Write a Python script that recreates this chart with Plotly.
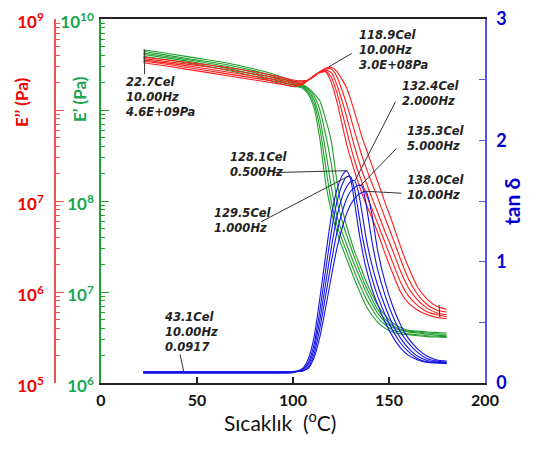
import math
import plotly.graph_objects as go

# ---------------- data ----------------
T = [22, 35, 50, 65, 80, 92, 100, 105, 108, 111, 114, 117, 120, 123, 126,
     128, 130, 132, 134, 136, 138, 141, 144, 148, 152, 156, 160, 165, 170, 175, 180]

freqs = ["0.5 Hz", "1 Hz", "2 Hz", "5 Hz", "10 Hz"]

# log10 of storage modulus E' (Pa)
logE1_05 = [9.59, 9.55, 9.50, 9.44, 9.37, 9.30, 9.26, 9.24, 9.17, 9.02, 8.68, 8.20, 7.88, 7.65, 7.47,
            7.36, 7.25, 7.14, 7.04, 6.94, 6.85, 6.75, 6.67, 6.60, 6.56, 6.54, 6.53, 6.52, 6.51, 6.505, 6.50]
logE1_1 = [9.61, 9.57, 9.52, 9.46, 9.39, 9.32, 9.275, 9.25, 9.19, 9.07, 8.80, 8.38, 7.98, 7.73, 7.55,
           7.44, 7.33, 7.22, 7.12, 7.02, 6.93, 6.82, 6.72, 6.64, 6.58, 6.56, 6.54, 6.53, 6.52, 6.515, 6.51]
logE1_2 = [9.625, 9.585, 9.535, 9.48, 9.41, 9.34, 9.29, 9.26, 9.21, 9.11, 8.90, 8.55, 8.15, 7.83, 7.63,
           7.52, 7.41, 7.30, 7.20, 7.10, 7.00, 6.88, 6.77, 6.67, 6.61, 6.58, 6.56, 6.55, 6.535, 6.525, 6.52]
logE1_5 = [9.645, 9.60, 9.55, 9.50, 9.43, 9.36, 9.305, 9.27, 9.23, 9.15, 9.00, 8.73, 8.40, 8.00, 7.75,
           7.62, 7.50, 7.38, 7.27, 7.16, 7.06, 6.93, 6.81, 6.70, 6.63, 6.59, 6.57, 6.56, 6.55, 6.54, 6.535]
logE1_10 = [9.663, 9.62, 9.57, 9.52, 9.45, 9.38, 9.32, 9.28, 9.24, 9.18, 9.10, 8.90, 8.65, 8.20, 7.88,
            7.72, 7.58, 7.45, 7.34, 7.23, 7.12, 6.98, 6.86, 6.74, 6.66, 6.61, 6.58, 6.57, 6.56, 6.555, 6.55]

# log10 of loss modulus E'' (Pa)
logE2_05 = [8.52, 8.48, 8.43, 8.38, 8.33, 8.29, 8.26, 8.28, 8.33, 8.38, 8.41, 8.42, 8.30, 8.08, 7.80,
            7.62, 7.47, 7.33, 7.20, 7.08, 6.97, 6.82, 6.66, 6.42, 6.20, 6.00, 5.88, 5.80, 5.75, 5.72, 5.71]
logE2_1 = [8.535, 8.50, 8.45, 8.40, 8.35, 8.31, 8.28, 8.29, 8.33, 8.38, 8.415, 8.43, 8.36, 8.18, 7.94,
           7.77, 7.60, 7.45, 7.32, 7.20, 7.08, 6.92, 6.76, 6.54, 6.32, 6.11, 5.96, 5.85, 5.78, 5.75, 5.73]
logE2_2 = [8.55, 8.515, 8.47, 8.42, 8.37, 8.33, 8.30, 8.30, 8.33, 8.37, 8.42, 8.44, 8.41, 8.27, 8.07,
           7.92, 7.76, 7.60, 7.46, 7.33, 7.21, 7.04, 6.88, 6.66, 6.45, 6.23, 6.05, 5.91, 5.82, 5.77, 5.75]
logE2_5 = [8.565, 8.53, 8.49, 8.445, 8.395, 8.35, 8.315, 8.31, 8.33, 8.37, 8.42, 8.45, 8.45, 8.36, 8.19,
           8.06, 7.92, 7.77, 7.63, 7.49, 7.37, 7.20, 7.04, 6.81, 6.59, 6.36, 6.15, 5.97, 5.86, 5.80, 5.78]
logE2_10 = [8.58, 8.55, 8.51, 8.47, 8.42, 8.37, 8.33, 8.32, 8.33, 8.37, 8.42, 8.46, 8.47, 8.42, 8.32,
            8.24, 8.12, 7.98, 7.84, 7.70, 7.58, 7.40, 7.22, 6.98, 6.75, 6.50, 6.28, 6.05, 5.92, 5.84, 5.81]

# tan delta
tan_05 = [0.08, 0.08, 0.08, 0.08, 0.08, 0.08, 0.085, 0.12, 0.20, 0.38, 0.70, 1.05, 1.38, 1.60, 1.72,
          1.75, 1.68, 1.50, 1.28, 1.10, 0.95, 0.78, 0.65, 0.50, 0.38, 0.29, 0.23, 0.19, 0.17, 0.165, 0.16]
tan_1 = [0.085, 0.085, 0.085, 0.085, 0.085, 0.085, 0.09, 0.11, 0.17, 0.32, 0.60, 0.93, 1.25, 1.50, 1.65,
         1.70, 1.70, 1.60, 1.42, 1.22, 1.06, 0.87, 0.72, 0.56, 0.43, 0.33, 0.26, 0.20, 0.175, 0.168, 0.165]
tan_2 = [0.09, 0.09, 0.09, 0.09, 0.09, 0.09, 0.095, 0.105, 0.15, 0.28, 0.52, 0.82, 1.12, 1.38, 1.55,
         1.62, 1.66, 1.67, 1.58, 1.40, 1.20, 0.98, 0.81, 0.63, 0.48, 0.37, 0.29, 0.22, 0.185, 0.172, 0.168]
tan_5 = [0.095, 0.095, 0.095, 0.095, 0.095, 0.095, 0.095, 0.10, 0.13, 0.24, 0.45, 0.72, 1.00, 1.25, 1.43,
         1.52, 1.58, 1.61, 1.63, 1.62, 1.48, 1.18, 0.94, 0.72, 0.55, 0.42, 0.33, 0.25, 0.20, 0.18, 0.172]
tan_10 = [0.0917, 0.0917, 0.0917, 0.0917, 0.0917, 0.0917, 0.092, 0.10, 0.12, 0.21, 0.38, 0.62, 0.88, 1.12, 1.30,
          1.40, 1.47, 1.52, 1.55, 1.57, 1.58, 1.40, 1.10, 0.83, 0.63, 0.48, 0.37, 0.28, 0.22, 0.19, 0.18]

# annotated points: (temperature, value, axis, text lines)
ann_T = [22.7, 118.9, 128.1, 129.5, 132.4, 135.3, 138.0, 43.1]
ann_val = [4.6e9, 3.0e8, 1.75, 1.71, 1.67, 1.63, 1.58, 0.0917]
ann_axis = ["y", "y2", "y3", "y3", "y3", "y3", "y3", "y3"]
ann_text = [["22.7Cel", "10.00Hz", "4.6E+09Pa"],
            ["118.9Cel", "10.00Hz", "3.0E+08Pa"],
            ["128.1Cel", "0.500Hz"],
            ["129.5Cel", "1.000Hz"],
            ["132.4Cel", "2.000Hz"],
            ["135.3Cel", "5.000Hz"],
            ["138.0Cel", "10.00Hz"],
            ["43.1Cel", "10.00Hz", "0.0917"]]
end_mark_T = 176.5
end_mark_val = 5.25e5

x_ticks = [0, 50, 100, 150, 200]

# ---------------- styling / layout ----------------
W, H = 540, 452
OFF = 8  # page body margin of the rendered html
PX0, PX1, PY0, PY1 = 101, 485, 19, 383
RED, GREEN, BLUE = "#ff1a1a", "#1f9e2c", "#1414e6"
RED_T, GREEN_T, BLUE_T = "#f00000", "#1aa64f", "#0000d0"


def px(x):
    return (x - OFF) / W


def py(y):
    return 1 - (y - OFF) / H


fig = go.Figure()

for arr in [logE2_05, logE2_1, logE2_2, logE2_5, logE2_10]:
    fig.add_trace(go.Scatter(x=T, y=[10 ** v for v in arr], yaxis="y2", mode="lines",
                             line=dict(color=RED, width=1.1, shape="spline", smoothing=0.6),
                             showlegend=False, hoverinfo="skip"))
for arr in [logE1_05, logE1_1, logE1_2, logE1_5, logE1_10]:
    fig.add_trace(go.Scatter(x=T, y=[10 ** v for v in arr], yaxis="y", mode="lines",
                             line=dict(color=GREEN, width=1.1, shape="spline", smoothing=0.6),
                             showlegend=False, hoverinfo="skip"))
for arr in [tan_05, tan_1, tan_2, tan_5, tan_10]:
    fig.add_trace(go.Scatter(x=T, y=arr, yaxis="y3", mode="lines",
                             line=dict(color=BLUE, width=1.1, shape="spline", smoothing=0.6),
                             showlegend=False, hoverinfo="skip"))

dom_x = [px(PX0), px(PX1)]
dom_y = [py(PY1), py(PY0)]


def sup(n):
    return "10<sup>%d</sup>" % n


minor_E1 = [k * 10 ** n for n in range(6, 10) for k in range(2, 10)]
minor_E2 = [k * 10 ** n for n in range(5, 9) for k in range(2, 10)]


def tickfont(c, s=17):
    return dict(family="Lato", size=s, color=c, weight="bold")


fig.update_layout(
    width=W, height=H, margin=dict(l=0, r=0, t=0, b=0, autoexpand=False),
    paper_bgcolor="white", plot_bgcolor="white", showlegend=False,
    xaxis=dict(domain=dom_x, range=[0, 200], tickvals=x_ticks, automargin=False,
               ticktext=[str(v) for v in x_ticks], ticklabeloverflow="allow",
               ticks="inside", ticklen=6, tickcolor="#222", tickwidth=1.5,
               showline=True, linecolor="#222", linewidth=2, mirror=True,
               showgrid=False, zeroline=False, tickfont=tickfont("#111", 16),
               ticklabelstandoff=2),
    yaxis=dict(domain=dom_y, type="log", range=[6, 10], anchor="x", side="left", automargin=False,
               tickvals=[1e6, 1e7, 1e8, 1e9, 1e10], ticklabeloverflow="allow",
               ticktext=[sup(6), sup(7), sup(8), "", sup(10)], ticklabelshift=3,
               ticks="inside", ticklen=8, tickcolor=GREEN, tickwidth=1.2,
               minor=dict(ticks="inside", ticklen=4, tickcolor=GREEN, tickwidth=1,
                          tickmode="array", tickvals=minor_E1, showgrid=False),
               showline=True, linecolor=GREEN, linewidth=1.5,
               showgrid=False, zeroline=False, tickfont=tickfont(GREEN_T),
               ticklabelstandoff=2),
    yaxis2=dict(domain=dom_y, type="log", range=[5, 9], overlaying="y", anchor="free",
                position=px(55), side="left", automargin=False, ticklabeloverflow="allow",
                tickvals=[1e5, 1e6, 1e7, 1e8, 1e9], ticklabelshift=3,
                ticktext=[sup(5), sup(6), sup(7), "", sup(9)],
                ticks="inside", ticklen=8, tickcolor="#f05050", tickwidth=1.2,
                minor=dict(ticks="inside", ticklen=4, tickcolor="#f05050", tickwidth=1,
                           tickmode="array", tickvals=minor_E2, showgrid=False),
                showline=True, linecolor="#f05050", linewidth=1.5,
                showgrid=False, zeroline=False, tickfont=tickfont(RED_T),
                ticklabelstandoff=7),
    yaxis3=dict(domain=dom_y, range=[0, 3], overlaying="y", anchor="x", side="right", automargin=False,
                tickvals=[0, 0.5, 1, 1.5, 2, 2.5, 3], ticklabeloverflow="allow",
                ticktext=["0", "", "1", "", "2", "", "3"],
                ticks="inside", ticklen=6, tickcolor="#5555ee", tickwidth=1.2,
                showline=True, linecolor="#5555ee", linewidth=1.5,
                showgrid=False, zeroline=False, tickfont=tickfont(BLUE_T, 18),
                ticklabelstandoff=6),
)

annots = []
# axis titles
annots.append(dict(text="Sıcaklık  (<sup>o</sup>C)", x=px(280), y=py(421), xref="paper", yref="paper",
                   showarrow=False, xanchor="center", yanchor="middle",
                   font=dict(family="Lato", size=21, color="#111")))
annots.append(dict(text="E’’ (Pa)", x=px(21), y=py(102), xref="paper", yref="paper", textangle=-90,
                   showarrow=False, xanchor="center", yanchor="middle",
                   font=dict(family="Lato", size=17, color=RED_T, weight="bold")))
annots.append(dict(text="E’ (Pa)", x=px(79), y=py(99), xref="paper", yref="paper", textangle=-90,
                   showarrow=False, xanchor="center", yanchor="middle",
                   font=dict(family="Lato", size=17, color=GREEN_T, weight="bold")))
annots.append(dict(text="tan δ", x=px(511), y=py(202), xref="paper", yref="paper", textangle=-90,
                   showarrow=False, xanchor="center", yanchor="middle",
                   font=dict(family="Lato", size=21, color=BLUE_T, weight="bold")))

# annotation text blocks (left edge, vertical centre in px) and leader tail offsets (px)
text_pos = [(123, 97), (357, 50), (228, 165), (212, 220), (400, 93), (405, 139), (405, 187), (162, 332)]
leader = [(0, 26), (24, -14), (-75, 2), (-90, 47), (41, -80), (37, -38), (37, 2), (-4, -19)]
afont = dict(family="DejaVu Sans", size=11.5, color="#222", weight="bold", style="italic")
for tval, v, ax_, lines, (lx, cy), (dx, dy) in zip(ann_T, ann_val, ann_axis, ann_text, text_pos, leader):
    yv = math.log10(v) if ax_ in ("y", "y2") else v
    annots.append(dict(x=tval, y=yv, xref="x", yref=ax_, text="", showarrow=True,
                       ax=dx, ay=dy, arrowhead=0, arrowwidth=1, arrowcolor="#333"))
    annots.append(dict(text="<br>".join(lines), x=px(lx), y=py(cy), xref="paper", yref="paper",
                       showarrow=False, xanchor="left", yanchor="middle", align="left", font=afont))
annots.append(dict(x=end_mark_T, y=math.log10(end_mark_val), xref="x", yref="y2", text="", showarrow=True,
                   ax=-1, ay=-14, arrowhead=0, arrowwidth=1, arrowcolor="#333"))

fig.update_layout(annotations=annots)
fig.write_html("out.html")
